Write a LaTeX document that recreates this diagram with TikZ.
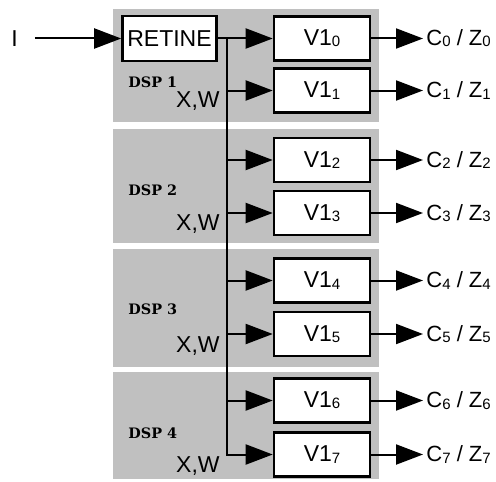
\documentclass[tikz,border=0pt]{standalone}
\usepackage{fontspec}
\newfontfamily\arialfont{Liberation Sans}
\newfontfamily\dspfont{DejaVu Serif}
\usetikzlibrary{arrows.meta,calc}
\definecolor{PanelClr}{RGB}{192,192,192}
\newcommand\idx[1]{\raisebox{-.6pt}{\fontsize{7.5}{8}\selectfont #1}}

\tikzset{
  bloc/.style={draw,line width=1.3pt,fill=white,minimum width=48pt,minimum height=22pt,inner sep=0pt,
    font=\arialfont\fontsize{11.5}{13}\selectfont},
  fleche/.style={line width=1pt,-{Triangle[length=13.5pt,width=10pt]}},
  dsp/.style={font=\dspfont\bfseries\fontsize{7.2}{8}\selectfont,anchor=base west,inner sep=0pt},
  xw/.style={font=\arialfont\fontsize{11.5}{13}\selectfont,anchor=base east,inner sep=0pt},
  sortie/.style={font=\arialfont\fontsize{11}{13}\selectfont,anchor=west,inner sep=1.5pt}
}

\begin{document}
\begin{tikzpicture}[x=.5pt,y=-.5pt]
\useasboundingbox (0,0) rectangle (496,481);

% Panneaux des quatre DSP.
\foreach \n/\h/\b/\yd/\yx in {1/9/122/87/107,2/129/243/195/230,3/249/367/314/352,4/372/479/438/472}{
  \fill[PanelClr] (113,\h) rectangle (379,\b);
  \node[dsp] (dsp\n) at (128,\yd) {DSP \n};
  \node[xw] (xw\n) at (220,\yx) {X,W};
}

% Entree et retine.
\node[font=\arialfont\fontsize{11.5}{13}\selectfont] (i) at (14.5,38.5) {I};
\node[bloc,minimum width=47pt,minimum height=22.5pt] (retine) at (169.5,38.5) {RETINE};
\draw[fleche,shorten <=5pt] (i) -- (retine);

% Les huit V1 et leurs sorties.
\foreach \k/\y in {0/38.5,1/90.5,2/160,3/213,4/280.5,5/334,6/400.5,7/454.5}{
  \node[bloc] (v\k) at (322,\y) {V1\idx{\k}};
  \coordinate (b\k) at (227,\y);
  \node[sortie] (c\k) at (423,\y) {C\idx{\k} / Z\idx{\k}};
  \draw[fleche] (v\k) -- (c\k);
}

% Bus de distribution.
\draw[fleche] (retine) -- (v0);
\draw[fleche] (b0) -- (b7) -- (v7);
\foreach \k in {1,...,6}{
  \draw[fleche] (b\k) -- (v\k);
}

\end{tikzpicture}
\end{document}
